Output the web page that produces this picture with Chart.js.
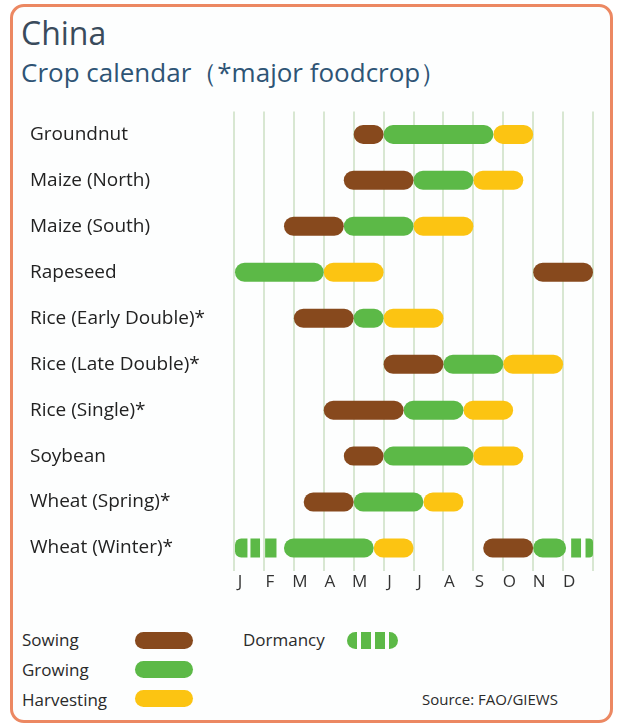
<!DOCTYPE html>
<html>
<head>
<meta charset="utf-8">
<script src="https://cdn.jsdelivr.net/npm/chart.js@4/dist/chart.umd.min.js"></script>
<style>
  body { margin: 0; background: #fff; font-family: "Open Sans", sans-serif; }
  #frame {
    position: absolute; left: 10px; top: 4px; width: 597px; height: 713px;
    border: 3px solid #ec8862; border-radius: 14px; background: #fdfefe;
  }
  .t { position: absolute; white-space: nowrap; line-height: 1; }
  #title { left: 21px; top: 17px; font-size: 32px; color: #3a4b5c; }
  #subtitle { left: 21px; top: 59px; font-size: 26px; color: #2e5475; }
  #wrap { position: absolute; left: 0; top: 100px; width: 619px; height: 520px; }
  .lg { position: absolute; font-size: 17px; color: #2a2a2a; white-space: nowrap; line-height: 1; }
  .pill { position: absolute; width: 58px; height: 17px; border-radius: 9px; }
  .dm { position: absolute; top: 632px; height: 17px; background: #5cb947; }
</style>
</head>
<body>
<div id="frame"></div>
<div class="t" id="title">China</div>
<div class="t" id="subtitle">Crop calendar（*major foodcrop）</div>
<div id="wrap"><canvas id="cal"></canvas></div>

<div class="lg" style="left:22px; top:631px;">Sowing</div>
<div class="lg" style="left:22px; top:661px;">Growing</div>
<div class="lg" style="left:22px; top:691px;">Harvesting</div>
<div class="pill" style="left:135px; top:632px; background:#87491d;"></div>
<div class="pill" style="left:135px; top:661px; background:#5cb947;"></div>
<div class="pill" style="left:135px; top:690px; background:#fcc412;"></div>
<div class="lg" style="left:243px; top:631px;">Dormancy</div>
<div class="dm" style="left:347px; width:10px; border-radius:9px 0 0 9px;"></div>
<div class="dm" style="left:361px; width:10px;"></div>
<div class="dm" style="left:375px; width:10px;"></div>
<div class="dm" style="left:389px; width:9px; border-radius:0 9px 9px 0;"></div>
<div class="lg" style="left:422px; top:692px; font-size:15px;">Source: FAO/GIEWS</div>

<script>
// 작물 목록과 월 라벨
const crops = [
  'Groundnut', 'Maize (North)', 'Maize (South)', 'Rapeseed',
  'Rice (Early Double)*', 'Rice (Late Double)*', 'Rice (Single)*',
  'Soybean', 'Wheat (Spring)*', 'Wheat (Winter)*'
];
const months = ['J', 'F', 'M', 'A', 'M', 'J', 'J', 'A', 'S', 'O', 'N', 'D'];

// 각 단계 기간 (월 단위, 0 = 1월 시작, 12 = 12월 끝)
const sowing = [
  [4, 5], [3.67, 6], [1.67, 3.67], [10, 12], [2, 4],
  [5, 7], [3, 5.67], [3.67, 5], [2.33, 4], [8.33, 10]
];
const growing = [
  [5, 8.67], [6, 8], [3.67, 6], [0, 3], [4, 5],
  [7, 9], [5.67, 7.67], [5, 8], [4, 6.33], [1.67, 4.67]
];
const harvesting = [
  [8.67, 10], [8, 9.67], [6, 8], [3, 5], [5, 7],
  [9, 11], [7.67, 9.33], [8, 9.67], [6.33, 7.67], [4.67, 6]
];
// 겨울밀 재생장 구간 / 휴면 구간
const winterRegrowth = [[10, 11.1]];
const winterDormancy = [[0, 0.45], [0.55, 0.87], [1.04, 1.42], [11.27, 11.6], [11.75, 12]];

const BROWN = '#87491d';
const GREEN = '#5cb947';
const YELLOW = '#fcc412';

const toPoints = (ranges, names) => ranges.map((r, i) => ({ x: r, y: names[i] }));
const winter = 'Wheat (Winter)*';

function barSet(label, data, color) {
  return {
    label,
    data,
    backgroundColor: color,
    borderWidth: 0,
    borderSkipped: false,
    borderRadius: 10,
    barThickness: 19,
    grouped: false,
    inflateAmount: 0
  };
}

const dormancySet = barSet('Dormancy', winterDormancy.map(r => ({ x: r, y: winter })), GREEN);
dormancySet.borderRadius = (ctx) => {
  const r = ctx.raw && ctx.raw.x;
  if (!r) return 0;
  if (r[0] === 0) return { topLeft: 10, bottomLeft: 10, topRight: 0, bottomRight: 0 };
  if (r[1] === 12) return { topLeft: 0, bottomLeft: 0, topRight: 10, bottomRight: 10 };
  return 0;
};

new Chart(document.getElementById('cal'), {
  type: 'bar',
  data: {
    labels: crops,
    datasets: [
      barSet('Sowing', toPoints(sowing, crops), BROWN),
      barSet('Growing', toPoints(growing, crops).concat(winterRegrowth.map(r => ({ x: r, y: winter }))), GREEN),
      barSet('Harvesting', toPoints(harvesting, crops), YELLOW),
      dormancySet
    ]
  },
  options: {
    indexAxis: 'y',
    responsive: true,
    maintainAspectRatio: false,
    animation: false,
    layout: { padding: { left: 30, right: 26, top: 10, bottom: 0 } },
    plugins: {
      legend: { display: false },
      tooltip: { enabled: false }
    },
    scales: {
      x: {
        type: 'linear',
        min: 0,
        max: 12,
        position: 'bottom',
        afterFit: (s) => { s.height = 49; },
        border: { display: false },
        grid: { color: '#d8e7d2', lineWidth: 2, drawTicks: false },
        ticks: {
          stepSize: 1,
          padding: 1,
          labelOffset: 6,
          autoSkip: false,
          maxRotation: 0,
          color: '#333',
          font: { family: 'Open Sans', size: 17 },
          callback: (v) => months[v] || ''
        }
      },
      y: {
        type: 'category',
        afterFit: (s) => { s.width = 204; },
        border: { display: false },
        grid: { display: false, drawTicks: false },
        ticks: {
          crossAlign: 'far',
          padding: 0,
          color: '#222',
          font: { family: 'Open Sans', size: 19 }
        }
      }
    }
  }
});
</script>
</body>
</html>
